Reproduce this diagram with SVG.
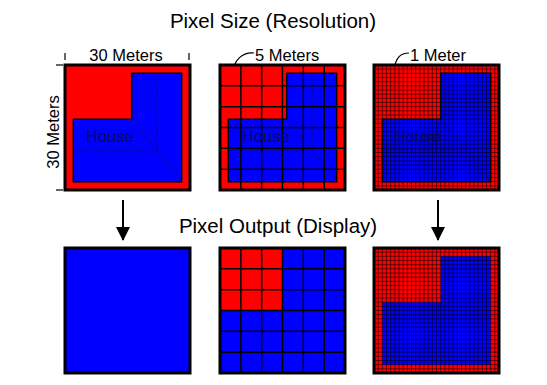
<svg xmlns="http://www.w3.org/2000/svg" width="547" height="385" viewBox="0 0 547 385">
<style>
text{font-family:"Liberation Sans",Arial,sans-serif;fill:#000}
.title{font-size:20.5px;text-anchor:middle}
.lbl{font-size:16.5px}
.house{font-size:16.5px;fill:#0c0c48}
.red{fill:#ff0000}
.blue{fill:#0000ff}
.frame{fill:none;stroke:#000;stroke-width:3}
.outline{fill:#0000ff;stroke:#000;stroke-width:1.5}
.grid{stroke:#000;stroke-width:1.5;fill:none}
.fine{stroke:#000;stroke-width:1;stroke-opacity:0.55;fill:none}
.dash{stroke:#0c0c60;stroke-width:1;stroke-dasharray:3,2;fill:none}
.tick{stroke:#000;stroke-width:1.2}
.arrow{stroke:#000;stroke-width:2}
</style>
<defs>
<path id="L" d="M66.67,8.33H116.67V116.67H8.33V54.17H66.67Z"/>
<path id="grid6" d="M20.83,0V125M41.67,0V125M62.5,0V125M83.33,0V125M104.17,0V125M0,20.83H125M0,41.67H125M0,62.5H125M0,83.33H125M0,104.17H125"/>
<path id="grid30" d="M4.17,0V125M8.33,0V125M12.5,0V125M16.67,0V125M20.83,0V125M25,0V125M29.17,0V125M33.33,0V125M37.5,0V125M41.67,0V125M45.83,0V125M50,0V125M54.17,0V125M58.33,0V125M62.5,0V125M66.67,0V125M70.83,0V125M75,0V125M79.17,0V125M83.33,0V125M87.5,0V125M91.67,0V125M95.83,0V125M100,0V125M104.17,0V125M108.33,0V125M112.5,0V125M116.67,0V125M120.83,0V125M0,4.17H125M0,8.33H125M0,12.5H125M0,16.67H125M0,20.83H125M0,25H125M0,29.17H125M0,33.33H125M0,37.5H125M0,41.67H125M0,45.83H125M0,50H125M0,54.17H125M0,58.33H125M0,62.5H125M0,66.67H125M0,70.83H125M0,75H125M0,79.17H125M0,83.33H125M0,87.5H125M0,91.67H125M0,95.83H125M0,100H125M0,104.17H125M0,108.33H125M0,112.5H125M0,116.67H125M0,120.83H125"/>
<path id="roof" d="M92,8.33V85H8.33M66.67,54.17L116.67,116.67"/>
<marker id="ah" viewBox="0 0 14 26" refX="13" refY="7" markerWidth="14" markerHeight="26" markerUnits="userSpaceOnUse" orient="auto">
<path d="M0,0L14,7L0,14Z" fill="#000"/>
</marker>
</defs>

<text class="title" x="273" y="28">Pixel Size (Resolution)</text>
<text class="title" x="278" y="233">Pixel Output (Display)</text>

<g id="labels">
<text class="lbl" x="126" y="61" text-anchor="middle">30 Meters</text>
<line class="tick" x1="65" y1="53" x2="65" y2="60"/>
<line class="tick" x1="189" y1="53" x2="189" y2="60"/>
<text class="lbl" transform="translate(59,132) rotate(-90)" text-anchor="middle">30 Meters</text>
<line class="tick" x1="56" y1="65" x2="63" y2="65"/>
<line class="tick" x1="56" y1="190" x2="63" y2="190"/>
<text class="lbl" x="255" y="61">5 Meters</text>
<path d="M254,53C242,52 234,60 232,74" fill="none" stroke="#000" stroke-width="1.2"/>
<circle cx="231" cy="77" r="1.6" fill="#000"/>
<text class="lbl" x="410" y="61">1 Meter</text>
<path d="M409,53C400,53 396,58 394,69" fill="none" stroke="#000" stroke-width="1.2"/>
<circle cx="393" cy="72" r="1.6" fill="#000"/>
</g>

<g id="panel-30m" transform="translate(65,65)">
<rect class="red" width="125" height="125"/>
<use href="#L" class="outline"/>
<use href="#roof" class="dash"/>
<text class="house" x="21" y="77">House</text>
<rect class="frame" width="125" height="125"/>
</g>

<g id="panel-5m" transform="translate(220,65)">
<rect class="red" width="125" height="125"/>
<use href="#L" class="outline"/>
<use href="#roof" class="dash"/>
<use href="#grid6" class="grid"/>
<text class="house" x="22" y="77">House</text>
<rect class="frame" width="125" height="125"/>
</g>

<g id="panel-1m" transform="translate(374,65)">
<rect class="red" width="125" height="125"/>
<use href="#L" class="outline"/>
<use href="#roof" class="dash"/>
<use href="#grid30" class="fine"/>
<text class="house" x="20" y="77">House</text>
<rect class="frame" width="125" height="125"/>
</g>

<g id="connectors">
<line class="arrow" x1="123" y1="200" x2="123" y2="240" marker-end="url(#ah)"/>
<line class="arrow" x1="438" y1="200" x2="438" y2="240" marker-end="url(#ah)"/>
</g>

<g id="output-30m" transform="translate(65,248)">
<rect class="blue" width="125" height="125"/>
<rect class="frame" width="125" height="125"/>
</g>

<g id="output-5m" transform="translate(220,248)">
<rect class="blue" width="125" height="125"/>
<rect class="red" width="62.5" height="62.5"/>
<use href="#grid6" class="grid"/>
<rect class="frame" width="125" height="125"/>
</g>

<g id="output-1m" transform="translate(374,248)">
<rect class="red" width="125" height="125"/>
<use href="#L" class="blue"/>
<use href="#grid30" class="fine"/>
<rect class="frame" width="125" height="125"/>
</g>
</svg>
